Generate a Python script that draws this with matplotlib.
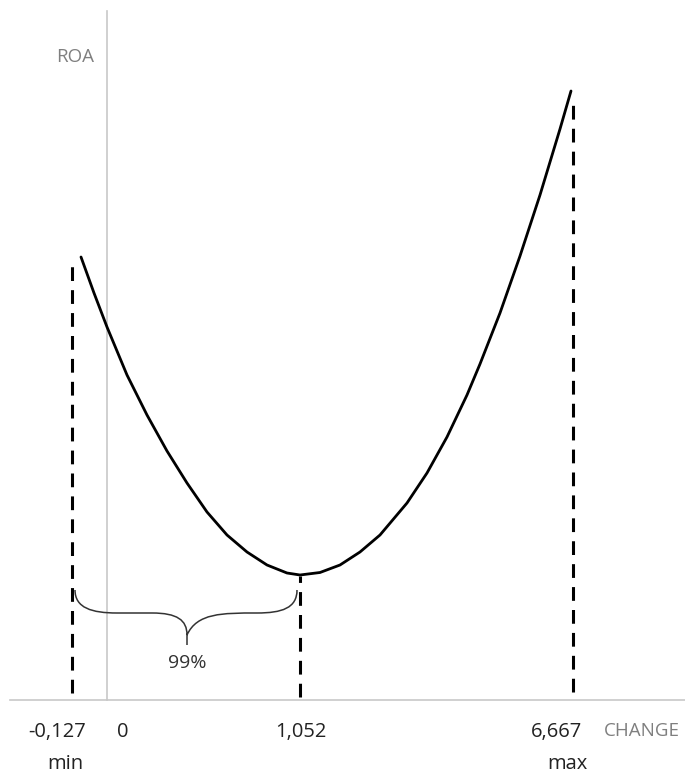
import matplotlib
matplotlib.use('Agg')
import matplotlib.pyplot as plt
from matplotlib.path import Path
from matplotlib.patches import PathPatch

plt.rcParams['font.family'] = ['Open Sans', 'DejaVu Sans']

# schematic ROA curve (x = change position, y = ROA level)
curve_x = [-26, -13, 0, 20, 40, 60, 80, 100, 120, 140, 160, 180, 193,
           213, 233, 253, 273, 300, 320, 340, 360, 373, 393, 413, 433, 453, 464]
curve_y = [443, 407, 373, 325, 285, 249, 217, 188, 165, 148, 135, 127, 125,
           127.5, 135, 148, 165, 197, 227, 263, 305, 336, 387, 444, 505, 571, 609]

# dashed markers: min, turning point, max
mark_x = [-35, 193, 466]
mark_top = [437, 124, 603]
mark_bottom = [7, 3, 8]

tick_labels = ['-0,127', '0', '1,052', '6,667']
tick_label_x = [-50, 16, 194, 450]
sub_labels = ['min', 'max']
sub_label_x = [-42, 460]

fig = plt.figure(figsize=(6.85, 7.76), dpi=100)
ax = fig.add_axes([0, 0, 1, 1])
ax.set_xlim(-107, 578)
ax.set_ylim(-76, 700)
ax.axis('off')

axis_col = '#c8c8c8'
ax.plot([0, 0], [0, 689], color=axis_col, lw=1.2, zorder=1)
ax.plot([-97, 578], [0, 0], color=axis_col, lw=1.2, zorder=1)

ax.plot(curve_x, curve_y, color='black', lw=2.0, solid_capstyle='round',
        solid_joinstyle='round', zorder=3)

for x, top, bot in zip(mark_x, mark_top, mark_bottom):
    ax.plot([x, x], [bot, top], color='black', lw=2.2, dashes=(4.5, 3), zorder=2)

# curly brace between min and turning point
verts = [(-32, 110), (-32, 92), (-15, 87), (10, 87),
         (45, 87),
         (70, 87), (80, 80), (80, 65),
         (80, 55),
         (80, 65), (90, 87), (115, 87),
         (150, 87),
         (175, 87), (190, 92), (190, 110)]
codes = [Path.MOVETO, Path.CURVE4, Path.CURVE4, Path.CURVE4,
         Path.LINETO,
         Path.CURVE4, Path.CURVE4, Path.CURVE4,
         Path.LINETO,
         Path.MOVETO, Path.CURVE4, Path.CURVE4,
         Path.LINETO,
         Path.CURVE4, Path.CURVE4, Path.CURVE4]
ax.add_patch(PathPatch(Path(verts, codes), fill=False, edgecolor='#333333', lw=1.1, zorder=2))

ax.text(80, 37, '99%', ha='center', va='center', fontsize=14, color='#333333')

ax.text(-32, 643, 'ROA', ha='center', va='center', fontsize=13.5, color='#7f7f7f')
ax.text(535, -31, 'CHANGE', ha='center', va='center', fontsize=13.5, color='#7f7f7f')

for lab, x in zip(tick_labels, tick_label_x):
    ax.text(x, -32, lab, ha='center', va='center', fontsize=14.5, color='#222222')
for lab, x in zip(sub_labels, sub_label_x):
    ax.text(x, -64, lab, ha='center', va='center', fontsize=14.5, color='#222222')

fig.savefig('out.png', dpi=100)
